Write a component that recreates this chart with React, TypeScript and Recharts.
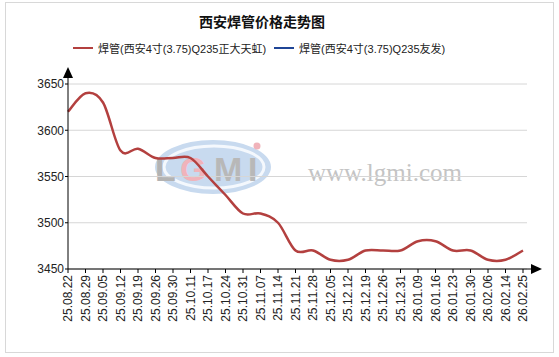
import { CartesianGrid, Line, LineChart, XAxis, YAxis } from "recharts"

const dates = [
  "25.08.22", "25.08.29", "25.09.05", "25.09.12", "25.09.19", "25.09.26", "25.09.30",
  "25.10.11", "25.10.17", "25.10.24", "25.10.31", "25.11.07", "25.11.14", "25.11.21",
  "25.11.28", "25.12.05", "25.12.12", "25.12.19", "25.12.26", "25.12.31", "26.01.09",
  "26.01.16", "26.01.23", "26.01.30", "26.02.06", "26.02.14", "26.02.25",
]
const zhengda = [
  3620, 3640, 3630, 3578, 3580, 3570, 3570,
  3570, 3550, 3530, 3510, 3510, 3500, 3470,
  3470, 3460, 3460, 3470, 3470, 3470, 3480,
  3480, 3470, 3470, 3460, 3460, 3470,
]
const yTicks = [3450, 3500, 3550, 3600, 3650]

const series = [
  { key: "zhengda", name: "焊管(西安4寸(3.75)Q235正大天虹)", color: "#b3403f" },
  { key: "youfa", name: "焊管(西安4寸(3.75)Q235友发)", color: "#1f4596" },
]

const data = dates.map((d, i) => ({ d, zhengda: zhengda[i] }))

const font = "'Liberation Sans', Arial, 'Noto Sans CJK SC', sans-serif"

// catmull-rom style spline, close to the spline of the original chart
const spline = (ctx: any) => {
  let pts: [number, number][] = []
  return {
    areaStart() {},
    areaEnd() {},
    lineStart() { pts = [] },
    lineEnd() {
      if (!pts.length) return
      ctx.moveTo(pts[0][0], pts[0][1])
      const k = 1 / 6
      for (let i = 0; i < pts.length - 1; i++) {
        const p0 = pts[i - 1] || pts[i], p1 = pts[i], p2 = pts[i + 1], p3 = pts[i + 2] || p2
        ctx.bezierCurveTo(
          p1[0] + (p2[0] - p0[0]) * k, p1[1] + (p2[1] - p0[1]) * k,
          p2[0] - (p3[0] - p1[0]) * k, p2[1] - (p3[1] - p1[1]) * k,
          p2[0], p2[1])
      }
    },
    point(x: number, y: number) { pts.push([x, y]) },
  }
}

const DateTick = (props: any) => {
  const { x, y, payload } = props
  return (
    <text x={x + 4} y={y} transform={`rotate(-90 ${x + 4} ${y})`} textAnchor="end"
      fontSize={12} fill="#222" fontFamily={font}>
      {payload.value}
    </text>
  )
}

export default function App() {
  return (
    <div style={{ position: "absolute", left: 0, top: 0, width: 559, height: 357, background: "#fff", fontFamily: font }}>
      <div style={{ position: "absolute", left: 5, top: 2, width: 547, height: 349, border: "1px solid #d8d8d8" }} />
      {/* watermark */}
      <svg width={559} height={357} style={{ position: "absolute", left: 0, top: 0 }}>
        <ellipse cx={213} cy={167} rx={58} ry={27} fill="#c8daef" />
        <ellipse cx={214} cy={167} rx={50} ry={21} fill="none" stroke="#f4f8fd" strokeWidth={3} />
        <g fontFamily="'Liberation Sans', sans-serif" fontWeight="bold" fontSize={34}>
          <text x={155} y={181} fill="#b3b3b3">L</text>
          <text x={180} y={181} fill="#f0b3ba">G</text>
          <text x={214} y={181} fill="#b8b8b8">M</text>
          <text x={248} y={181} fill="#b8b8b8">I</text>
        </g>
        <circle cx={257} cy={146} r={3.5} fill="#f0b3ba" />
        <text x={308} y={181} fontSize={25} fontFamily="'Liberation Serif', serif" fill="#c4c4c4">www.lgmi.com</text>
      </svg>
      <div style={{ position: "absolute", left: 0, top: 11, width: 524, textAlign: "center", fontSize: 14, fontWeight: "bold", color: "#111" }}>
        西安焊管价格走势图
      </div>
      <div style={{ position: "absolute", left: 73, top: 40, display: "flex", fontSize: 11, color: "#222", whiteSpace: "nowrap" }}>
        {series.map((s) => (
          <div key={s.key} style={{ display: "flex", alignItems: "center", marginRight: 8 }}>
            <span style={{ display: "inline-block", width: 20, height: 2, background: s.color, marginRight: 5 }} />
            <span>{s.name}</span>
          </div>
        ))}
      </div>
      <div style={{ position: "absolute", left: 0, top: 0 }}>
        <LineChart width={559} height={357} data={data} margin={{ top: 84, right: 32, bottom: 18, left: 0 }}>
          <CartesianGrid stroke="#d6d6d6" vertical={false} />
          <XAxis dataKey="d" interval={0} height={70} tickSize={4} tickMargin={2}
            padding={{ left: 0, right: 4 }} axisLine={{ stroke: "#000" }} tickLine={{ stroke: "#000" }}
            tick={<DateTick />} />
          <YAxis domain={[3450, 3650]} ticks={yTicks} width={68} tickSize={3} tickMargin={1}
            axisLine={{ stroke: "#000" }} tickLine={{ stroke: "#000" }}
            tick={{ fontSize: 12, fill: "#222", fontFamily: font }} />
          {series.map((s) => (
            <Line key={s.key} dataKey={s.key} name={s.name} type={spline as any}
              stroke={s.color} strokeWidth={2.5} dot={false} isAnimationActive={false} />
          ))}
        </LineChart>
      </div>
      <svg width={559} height={357} style={{ position: "absolute", left: 0, top: 0, pointerEvents: "none" }}>
        <line x1={68} y1={84} x2={68} y2={76} stroke="#000" />
        <polygon points="68,67 63,78 73,78" fill="#000" />
        <line x1={527} y1={269} x2={532} y2={269} stroke="#000" />
        <polygon points="542,269 531,264 531,274" fill="#000" />
      </svg>
    </div>
  )
}
